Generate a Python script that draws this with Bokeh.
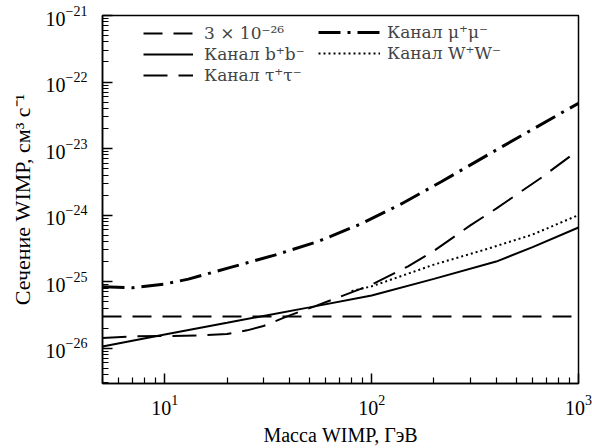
from bokeh.plotting import figure
from bokeh.models import Legend, LegendItem, FixedTicker, LogTickFormatter, Range1d
from bokeh.embed import file_html
from bokeh.resources import INLINE

# WIMP annihilation cross-section vs WIMP mass for several channels
ref_mass = [5, 1000]
ref_sigma = [3e-26, 3e-26]

bb_mass = [5, 10, 20, 30, 50, 100, 200, 400, 600, 1000]
bb_sigma = [1.06e-26, 1.6e-26, 2.4e-26, 3.05e-26, 4.1e-26, 6.2e-26, 1.1e-25, 2.0e-25, 3.3e-25, 6.5e-25]

tau_mass = [5, 7, 10, 15, 20, 25, 30, 39, 53, 86, 100, 150, 200, 300, 400, 665, 1000]
tau_sigma = [1.42e-26, 1.5e-26, 1.52e-26, 1.55e-26, 1.63e-26, 1.85e-26, 2.15e-26, 3.0e-26,
             4.25e-26, 7.5e-26, 9.0e-26, 1.7e-25, 2.9e-25, 7.0e-25, 1.25e-24, 3.7e-24, 9.5e-24]

mu_mass = [5, 7, 10, 13, 21, 34, 55, 89, 139, 218, 400, 1000]
mu_sigma = [8.4e-26, 8.1e-26, 9.2e-26, 1.09e-25, 1.65e-25, 2.5e-25, 4.0e-25, 7.4e-25,
            1.47e-24, 3.2e-24, 9.5e-24, 4.8e-23]

ww_mass = [80, 100, 140, 200, 350, 600, 1000]
ww_sigma = [7.2e-26, 8.5e-26, 1.22e-25, 1.8e-25, 3.0e-25, 5.1e-25, 1.0e-24]

x_exponents = [1, 2, 3]
y_exponents = [-26, -25, -24, -23, -22, -21]

XMIN, XMAX = 5, 1000
YMIN, YMAX = 2.94e-27, 1e-21

FONT = "Liberation Serif"
LEGEND_FONT = "DejaVu Serif"

p = figure(width=592, height=448, x_axis_type="log", y_axis_type="log",
           x_range=Range1d(XMIN, XMAX), y_range=Range1d(YMIN, YMAX),
           output_backend="svg", toolbar_location=None,
           min_border_left=102, min_border_right=14, min_border_top=15, min_border_bottom=64)

p.xgrid.grid_line_color = None
p.ygrid.grid_line_color = None
p.outline_line_color = "black"
p.outline_line_width = 1.5
p.background_fill_color = "white"
p.border_fill_color = "white"

# log ticks: decades as majors, 2..9 multiples as minors
x_major = [10 ** e for e in x_exponents]
y_major = [10.0 ** e for e in y_exponents]
x_minor = [k * 10 ** e for e in range(0, 3) for k in range(2, 10) if XMIN <= k * 10 ** e <= XMAX]
y_minor = [k * 10.0 ** e for e in range(-27, -21) for k in range(2, 10) if k * 10.0 ** e >= YMIN]
p.xaxis.ticker = FixedTicker(ticks=x_major, minor_ticks=x_minor)
p.yaxis.ticker = FixedTicker(ticks=y_major, minor_ticks=y_minor)
p.xaxis.formatter = LogTickFormatter()
p.yaxis.formatter = LogTickFormatter()

for ax in (p.xaxis, p.yaxis):
    ax.axis_line_width = 1.5
    ax.major_tick_line_width = 1.5
    ax.minor_tick_line_width = 1.2
    ax.major_tick_in = 10
    ax.major_tick_out = 0
    ax.minor_tick_in = 6
    ax.minor_tick_out = 0
    ax.major_label_text_font = FONT
    ax.major_label_text_font_size = "20px"
    ax.major_label_text_color = "black"
    ax.axis_label_text_font = FONT
    ax.axis_label_text_font_style = "normal"
    ax.axis_label_text_color = "black"

p.xaxis.axis_label_text_font_size = "20px"
p.yaxis.axis_label_text_font_size = "22px"
p.xaxis.axis_label = "Масса WIMP, ГэВ"
p.yaxis.axis_label = "Сечение WIMP, см³ с⁻¹"
p.xaxis.major_label_standoff = 11
p.yaxis.major_label_standoff = 15
p.xaxis.axis_label_standoff = 6
p.yaxis.axis_label_standoff = 8

r_ref = p.line(ref_mass, ref_sigma, line_color="black", line_width=2, line_dash="19 11")
r_bb = p.line(bb_mass, bb_sigma, line_color="black", line_width=2)
r_tau = p.line(tau_mass, tau_sigma, line_color="black", line_width=2, line_dash="24 11")
r_mu = p.line(mu_mass, mu_sigma, line_color="black", line_width=3, line_dash="22 7 3 7")
r_ww = p.line(ww_mass, ww_sigma, line_color="black", line_width=2, line_dash="2 3")


def legend_column(items, loc, glyph_w, standoff):
    return Legend(items=[LegendItem(label=t, renderers=[r]) for t, r in items], location=loc,
                  glyph_width=glyph_w, glyph_height=20, label_height=20, spacing=1,
                  padding=0, margin=0, label_standoff=standoff,
                  label_text_font=LEGEND_FONT, label_text_font_size="17px",
                  border_line_alpha=0, background_fill_alpha=0)


p.add_layout(legend_column([("3 × 10⁻²⁶", r_ref), ("Канал b⁺b⁻", r_bb), ("Канал τ⁺τ⁻", r_tau)],
                           (41, 298), 50, 11), "center")
p.add_layout(legend_column([("Канал μ⁺μ⁻", r_mu), ("Канал W⁺W⁻", r_ww)],
                           (216, 320), 62, 7), "center")

open("out.html", "w").write(file_html(p, INLINE))
